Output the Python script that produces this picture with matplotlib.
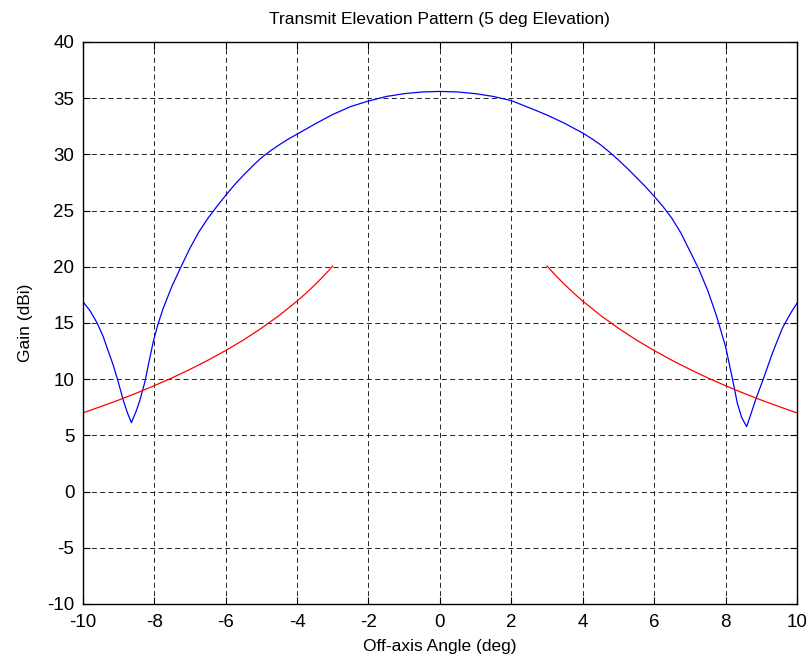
import numpy as np
import matplotlib.pyplot as plt

# main antenna pattern (blue)
ang_blue = [-10.0, -9.8, -9.6, -9.43, -9.3, -9.15, -9.01, -8.87, -8.75, -8.64,
            -8.5, -8.4, -8.26, -8.15, -8.03, -7.9, -7.75, -7.5, -7.25, -7.0,
            -6.75, -6.5, -6.25, -6.0, -5.75, -5.5, -5.25, -5.0, -4.75, -4.5,
            -4.25, -4.0, -3.5, -3.0, -2.5, -2.0, -1.5, -1.0, -0.5, 0.0,
            0.5, 1.0, 1.5, 2.0, 2.5, 3.0, 3.5, 4.0, 4.25, 4.5,
            4.75, 5.0, 5.25, 5.5, 5.75, 6.0, 6.25, 6.5, 6.75, 7.0,
            7.25, 7.5, 7.75, 8.0, 8.19, 8.33, 8.45, 8.59, 8.7, 8.84,
            9.08, 9.31, 9.59, 9.82, 10.0]
gain_blue = [16.9, 16.1, 15.0, 13.8, 12.6, 11.26, 9.78, 8.15, 7.0, 6.13,
             7.2, 8.15, 9.78, 11.5, 13.3, 14.85, 16.3, 18.3, 20.0, 21.65,
             23.1, 24.3, 25.35, 26.35, 27.3, 28.15, 28.95, 29.7, 30.3, 30.85,
             31.35, 31.8, 32.7, 33.55, 34.25, 34.75, 35.15, 35.4, 35.55, 35.6,
             35.55, 35.4, 35.15, 34.78, 34.15, 33.5, 32.75, 31.9, 31.4, 30.85,
             30.2, 29.5, 28.75, 27.95, 27.15, 26.27, 25.35, 24.3, 23.0, 21.4,
             19.8, 17.9, 15.6, 12.9, 10.08, 7.86, 6.6, 5.78, 6.8, 8.15,
             10.22, 12.3, 14.53, 15.86, 16.75]

# sidelobe mask (red), right branch; left branch is the mirror
ang_mask = [3.0, 3.25, 3.5, 3.75, 4.0, 4.5, 5.0, 5.5, 6.0, 6.5, 7.0, 7.5, 8.0, 8.5, 9.0, 9.5, 10.0]
gain_mask = [20.07, 19.2, 18.4, 17.65, 16.95, 15.67, 14.53, 13.49, 12.55, 11.68,
             10.87, 10.12, 9.42, 8.76, 8.14, 7.56, 7.0]

xticks = np.arange(-10, 11, 2)
yticks = np.arange(-10, 41, 5)

plt.rcParams['font.family'] = ['Liberation Sans', 'DejaVu Sans']
plt.rcParams['axes.unicode_minus'] = False
fig = plt.figure(figsize=(8.12, 6.66), dpi=100)
ax = fig.add_axes([0.102, 0.0931, 0.8795, 0.8439])

ax.plot(ang_blue, gain_blue, color='#0000ff', lw=0.9)
ax.plot(ang_mask, gain_mask, color='#ff0000', lw=0.9)
ax.plot(-np.array(ang_mask), gain_mask, color='#ff0000', lw=0.9)

ax.set_xlim(-10, 10)
ax.set_ylim(-10, 40)
ax.set_xticks(xticks)
ax.set_yticks(yticks)
ax.tick_params(direction='in', top=True, right=True, length=5, labelsize=13.5)
ax.tick_params(axis='x', pad=7)
ax.tick_params(axis='y', pad=6)
ax.grid(True, color='black', linestyle=(0, (6, 4)), linewidth=0.6)
for s in ax.spines.values():
    s.set_linewidth(1.0)

ax.set_title('Transmit Elevation Pattern (5 deg Elevation)', fontsize=12.5, pad=13)
ax.set_xlabel('Off-axis Angle (deg)', fontsize=12.5, labelpad=6)
ax.set_ylabel('Gain (dBi)', fontsize=12.5, labelpad=10)

fig.savefig('out.png', dpi=100)
